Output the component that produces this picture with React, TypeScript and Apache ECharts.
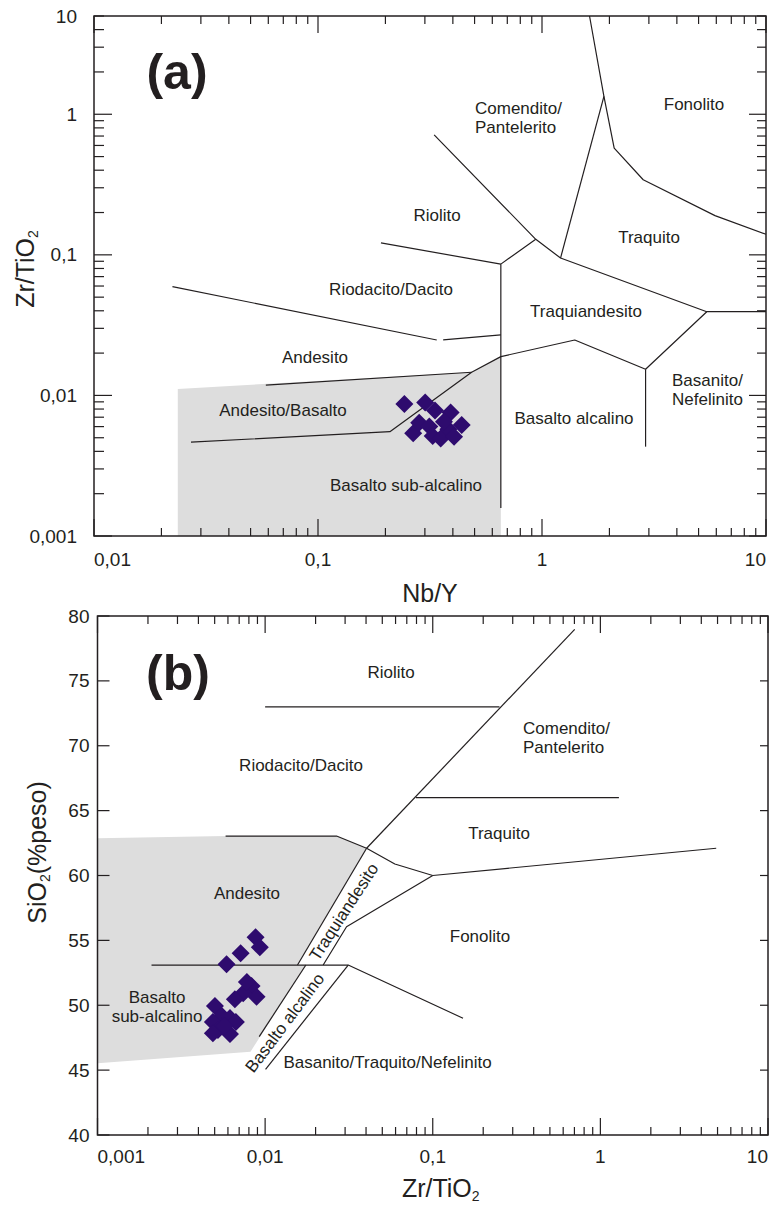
import React, { useEffect, useRef } from 'react';
import * as echarts from 'echarts';

const INK = '#231f20';
const FONT = "'Liberation Sans', Arial, Helvetica, sans-serif";
const SHADE = '#dddddd';
const DOT = '#2e0b6e';

// ---------- Panel (a): Zr/TiO2 vs Nb/Y ----------
const aXTicks = [0.01, 0.1, 1, 10];
const aXTickLabels = ['0,01', '0,1', '1', '10'];
const aYTicks = [0.001, 0.01, 0.1, 1, 5];
const aYTickLabels = ['0,001', '0,01', '0,1', '1', '10'];

const aSamples: [number, number][] = [
  [0.243, 0.0087], [0.301, 0.0089], [0.333, 0.0078], [0.391, 0.00755],
  [0.266, 0.00538], [0.283, 0.0064], [0.314, 0.006], [0.325, 0.00515],
  [0.353, 0.00493], [0.382, 0.00574], [0.405, 0.00509], [0.438, 0.00617],
  [0.365, 0.00651],
];

const aFonolitoEdge: [number, number][] = [[1.63, 5], [1.89, 1.34], [2.1, 0.574], [2.83, 0.342], [5.92, 0.19], [10, 0.14]];
const aComenditoTraquito: [number, number][] = [[1.89, 1.34], [1.21, 0.0949]];
const aRiolitoComendito: [number, number][] = [[0.33, 0.714], [0.938, 0.129], [1.21, 0.0949], [5.44, 0.0394], [10, 0.0394]];
const aSubalkalineEdge: [number, number][] = [[0.938, 0.129], [0.655, 0.0859], [0.655, 0.00158]];
const aRiolitoBase: [number, number][] = [[0.191, 0.1216], [0.655, 0.0859]];
const aDaciteBaseL: [number, number][] = [[0.0224, 0.0594], [0.339, 0.0248]];
const aDaciteBaseR: [number, number][] = [[0.362, 0.0248], [0.655, 0.027]];
const aAndesiteBase: [number, number][] = [[0.0585, 0.01184], [0.485, 0.01462]];
const aBasaltTop: [number, number][] = [[0.0271, 0.00465], [0.2094, 0.00552], [0.485, 0.01462], [0.655, 0.01888], [1.4, 0.0248], [2.9, 0.01534], [5.44, 0.0394]];
const aBasaniteEdge: [number, number][] = [[2.9, 0.01534], [2.9, 0.00432]];
const aShade: [number, number][] = [[0.02366, 0.001], [0.02366, 0.01112], [0.485, 0.01462], [0.655, 0.01888], [0.655, 0.001]];

// ---------- Panel (b): SiO2 vs Zr/TiO2 ----------
const bXTicks = [0.001, 0.01, 0.1, 1, 10];
const bXTickLabels = ['0,001', '0,01', '0,1', '1', '10'];
const bYTicks = [40, 45, 50, 55, 60, 65, 70, 75, 80];
const bYTickLabels = ['40', '45', '50', '55', '60', '65', '70', '75', '80'];

const bSamples: [number, number][] = [
  [0.00877, 55.24], [0.0093, 54.47], [0.00714, 54.0], [0.00589, 53.16],
  [0.0083, 51.48], [0.00889, 50.66], [0.0074, 50.92], [0.0066, 50.46], [0.00778, 51.79],
  [0.00502, 49.94], [0.00552, 49.17], [0.00488, 48.71], [0.00617, 49.02],
  [0.00669, 48.71], [0.00523, 48.09], [0.00617, 47.78], [0.00575, 48.4], [0.00488, 47.84],
];

const bRiolitoBase: [number, number][] = [[0.01, 73], [0.25, 73]];
const bMainDiagonal: [number, number][] = [[0.703, 78.97], [0.0403, 62.1]];
const bComenditoBase: [number, number][] = [[0.0793, 66], [1.29, 66]];
const bAndesiteTop: [number, number][] = [[0.00581, 63.04], [0.02667, 63.04], [0.0403, 62.1], [0.0594, 60.89], [0.1, 60]];
const bTraquitoBase: [number, number][] = [[0.1, 60], [4.91, 62.1]];
const bTraquiandesitoL: [number, number][] = [[0.0403, 62.1], [0.0156, 53.1]];
const bTraquiandesitoR: [number, number][] = [[0.1, 60], [0.0306, 56.05], [0.0222, 53.1]];
const bBasaltTop: [number, number][] = [[0.0021, 53.1], [0.0313, 53.1], [0.1516, 49.0]];
const bAlcalinoL: [number, number][] = [[0.0175, 53.1], [0.00922, 47.58]];
const bAlcalinoR: [number, number][] = [[0.0313, 53.1], [0.01006, 45.06]];
const bShade: [number, number][] = [[0.001, 62.87], [0.00581, 63.04], [0.02667, 63.04], [0.0403, 62.1], [0.0156, 53.1], [0.0175, 53.1], [0.00818, 46.42], [0.001, 45.53]];

const lookupLabel = (ticks: number[], labels: string[], log: boolean) => (v: number) => {
  for (let i = 0; i < ticks.length; i++) {
    const d = log ? Math.abs(Math.log10(v) - Math.log10(ticks[i])) : Math.abs(v - ticks[i]);
    if (d < 1e-3) return labels[i];
  }
  return '';
};

type Tick = { axis: 'x' | 'y'; v: number; major: boolean };

const logTicks = (axis: 'x' | 'y', eFrom: number, eTo: number, max: number): Tick[] => {
  const out: Tick[] = [];
  for (let e = eFrom; e <= eTo; e++) {
    for (let m = 1; m <= 9; m++) {
      const v = m * Math.pow(10, e);
      if (v > max * 1.0001) continue;
      out.push({ axis, v, major: m === 1 });
    }
  }
  return out;
};

const seg = (x1: number, y1: number, x2: number, y2: number) => ({
  type: 'line',
  shape: { x1, y1, x2, y2 },
  style: { stroke: INK, lineWidth: 1.2 },
});

const tickSeries = (gi: number, ticks: Tick[], refX: number, refY: number, len: any) => ({
  type: 'custom',
  coordinateSystem: 'cartesian2d',
  xAxisIndex: gi,
  yAxisIndex: gi,
  silent: true,
  z: 6,
  data: ticks.map((t) => (t.axis === 'x' ? [t.v, refY] : [refX, t.v])),
  renderItem: (params: any, api: any) => {
    const t = ticks[params.dataIndex];
    const cs = params.coordSys;
    const children: any[] = [];
    if (t.axis === 'x') {
      const px = api.coord([t.v, refY])[0];
      const l = t.major ? len.xMajor : len.xMinor;
      children.push(seg(px, cs.y + cs.height, px, cs.y + cs.height - l));
      children.push(seg(px, cs.y, px, cs.y + l));
    } else {
      const py = api.coord([refX, t.v])[1];
      const l = t.major ? len.yMajorL : len.yMinorL;
      const r = t.major ? len.yMajorR : len.yMinorR;
      children.push(seg(cs.x, py, cs.x + l, py));
      children.push(seg(cs.x + cs.width, py, cs.x + cs.width - r, py));
    }
    return { type: 'group', children };
  },
});

const shadeSeries = (gi: number, poly: [number, number][]) => ({
  type: 'custom',
  coordinateSystem: 'cartesian2d',
  xAxisIndex: gi,
  yAxisIndex: gi,
  silent: true,
  z: 1,
  data: [poly[0]],
  renderItem: (_p: any, api: any) => ({
    type: 'polygon',
    shape: { points: poly.map((p) => api.coord(p)) },
    style: { fill: SHADE, stroke: 'none' },
  }),
});

const lineSeries = (gi: number, data: [number, number][]) => ({
  type: 'line',
  xAxisIndex: gi,
  yAxisIndex: gi,
  data,
  symbol: 'none',
  silent: true,
  z: 3,
  lineStyle: { color: INK, width: 1.2 },
});

const pointSeries = (gi: number, data: [number, number][]) => ({
  type: 'scatter',
  xAxisIndex: gi,
  yAxisIndex: gi,
  data,
  symbol: 'diamond',
  symbolSize: 18,
  z: 4,
  itemStyle: { color: DOT, opacity: 1 },
});

const txt = (text: string, x: number, y: number, o: any = {}) => ({
  type: 'text',
  x,
  y,
  rotation: o.rot ? (o.rot * Math.PI) / 180 : 0,
  silent: true,
  z: 20,
  style: {
    text,
    fill: INK,
    fontSize: o.size || 17,
    fontWeight: o.bold ? 'bold' : 'normal',
    fontFamily: FONT,
    align: o.align || 'center',
    textAlign: o.align || 'center',
    verticalAlign: 'middle',
    textVerticalAlign: 'middle',
    lineHeight: o.lh || 19,
  },
});

const nameStyle = (extra: any = {}) => ({
  color: INK,
  fontSize: 25,
  fontFamily: FONT,
  lineHeight: 30,
  rich: { s: { fontSize: 14, lineHeight: 14, verticalAlign: 'bottom', color: INK, fontFamily: FONT } },
  ...extra,
});

const labelStyle = (formatter: any, margin: number, extra: any = {}) => ({
  formatter,
  color: INK,
  fontSize: 19,
  fontFamily: FONT,
  margin,
  showMinLabel: true,
  showMaxLabel: true,
  ...extra,
});

function buildOption(): any {
  const aTicks: Tick[] = [...logTicks('x', -2, 1, 10), ...logTicks('y', -3, 0, 5)];
  const bTicks: Tick[] = [...logTicks('x', -3, 1, 10), ...bYTicks.map((v) => ({ axis: 'y' as const, v, major: true }))];

  return {
    animation: false,
    backgroundColor: '#ffffff',
    grid: [
      { left: 94, top: 16, width: 672, height: 520, show: true, borderColor: INK, borderWidth: 1.5, backgroundColor: 'transparent', z: 10, containLabel: false, outerBoundsMode: 'none' },
      { left: 97.5, top: 616, width: 670.5, height: 519, show: true, borderColor: INK, borderWidth: 1.5, backgroundColor: 'transparent', z: 10, containLabel: false, outerBoundsMode: 'none' },
    ],
    xAxis: [
      {
        type: 'log', logBase: 10, gridIndex: 0, min: 0.01, max: 10,
        axisLine: { show: false }, axisTick: { show: false }, splitLine: { show: false },
        axisLabel: labelStyle(lookupLabel(aXTicks, aXTickLabels, true), 14, { alignMinLabel: 'left', alignMaxLabel: 'right' }),
        name: 'Nb/Y', nameLocation: 'middle', nameGap: 42, nameTextStyle: nameStyle(),
      },
      {
        type: 'log', logBase: 10, gridIndex: 1, min: 0.001, max: 10,
        axisLine: { show: false }, axisTick: { show: false }, splitLine: { show: false },
        axisLabel: labelStyle(lookupLabel(bXTicks, bXTickLabels, true), 12, { alignMinLabel: 'left', alignMaxLabel: 'right' }),
        name: 'Zr/TiO{s|2}', nameLocation: 'middle', nameGap: 38, nameTextStyle: nameStyle({ padding: [0, 0, 0, 16] }),
      },
    ],
    yAxis: [
      {
        type: 'log', logBase: 10, gridIndex: 0, min: 0.001, max: 5,
        axisLine: { show: false }, axisTick: { show: false }, splitLine: { show: false },
        axisLabel: labelStyle(lookupLabel(aYTicks, aYTickLabels, true), 17),
        name: 'Zr/TiO{s|2}', nameLocation: 'middle', nameGap: 54, nameMoveOverlap: false,
        nameTextStyle: nameStyle({ padding: [0, 0, 0, 14] }),
      },
      {
        type: 'value', gridIndex: 1, min: 40, max: 80, interval: 5,
        axisLine: { show: false }, axisTick: { show: false }, splitLine: { show: false },
        axisLabel: labelStyle(lookupLabel(bYTicks, bYTickLabels, false), 8),
        name: 'SiO{s|2}(%peso)', nameLocation: 'middle', nameGap: 46, nameTextStyle: nameStyle({ padding: [0, 0, 0, 46] }),
      },
    ],
    series: [
      shadeSeries(0, aShade),
      lineSeries(0, aFonolitoEdge),
      lineSeries(0, aComenditoTraquito),
      lineSeries(0, aRiolitoComendito),
      lineSeries(0, aSubalkalineEdge),
      lineSeries(0, aRiolitoBase),
      lineSeries(0, aDaciteBaseL),
      lineSeries(0, aDaciteBaseR),
      lineSeries(0, aAndesiteBase),
      lineSeries(0, aBasaltTop),
      lineSeries(0, aBasaniteEdge),
      pointSeries(0, aSamples),
      tickSeries(0, aTicks, 0.1, 0.01, { xMajor: 17, xMinor: 8, yMajorL: 18, yMinorL: 10, yMajorR: 17, yMinorR: 9 }),

      shadeSeries(1, bShade),
      lineSeries(1, bRiolitoBase),
      lineSeries(1, bMainDiagonal),
      lineSeries(1, bComenditoBase),
      lineSeries(1, bAndesiteTop),
      lineSeries(1, bTraquitoBase),
      lineSeries(1, bTraquiandesitoL),
      lineSeries(1, bTraquiandesitoR),
      lineSeries(1, bBasaltTop),
      lineSeries(1, bAlcalinoL),
      lineSeries(1, bAlcalinoR),
      pointSeries(1, bSamples),
      tickSeries(1, bTicks, 0.01, 50, { xMajor: 17, xMinor: 8, yMajorL: 12, yMinorL: 12, yMajorR: 8, yMinorR: 8 }),
    ],
    graphic: [
      txt('(a)', 177, 72, { size: 50, bold: true, lh: 56 }),
      txt('Comendito/\nPantelerito', 475, 118, { align: 'left' }),
      txt('Fonolito', 694, 104),
      txt('Riolito', 437, 215),
      txt('Traquito', 649, 237),
      txt('Riodacito/Dacito', 391, 289.5),
      txt('Traquiandesito', 586, 311),
      txt('Andesito', 315, 357),
      txt('Andesito/Basalto', 283, 410),
      txt('Basanito/\nNefelinito', 672, 390, { align: 'left' }),
      txt('Basalto alcalino', 574, 418),
      txt('Basalto sub-alcalino', 406, 485),

      txt('(b)', 178, 673, { size: 50, bold: true, lh: 56 }),
      txt('Riolito', 391, 672),
      txt('Comendito/\nPantelerito', 523, 737.5, { align: 'left' }),
      txt('Riodacito/Dacito', 301, 765),
      txt('Traquito', 499, 833),
      txt('Andesito', 247, 893),
      txt('Fonolito', 480, 936),
      txt('Basalto\nsub-alcalino', 157, 1007),
      txt('Basanito/Traquito/Nefelinito', 387.5, 1062),
      txt('Traquiandesito', 344, 912, { rot: 57 }),
      txt('Basalto alcalino', 285, 1023, { rot: 53 }),
    ],
  };
}

export default function App() {
  const ref = useRef<HTMLDivElement>(null);
  useEffect(() => {
    if (!ref.current) return;
    const chart = echarts.init(ref.current, undefined, { renderer: 'svg' });
    chart.setOption(buildOption());
    return () => chart.dispose();
  }, []);
  return (
    <div
      ref={ref}
      style={{ position: 'absolute', left: 0, top: 0, width: 777, height: 1205, background: '#ffffff' }}
    />
  );
}
